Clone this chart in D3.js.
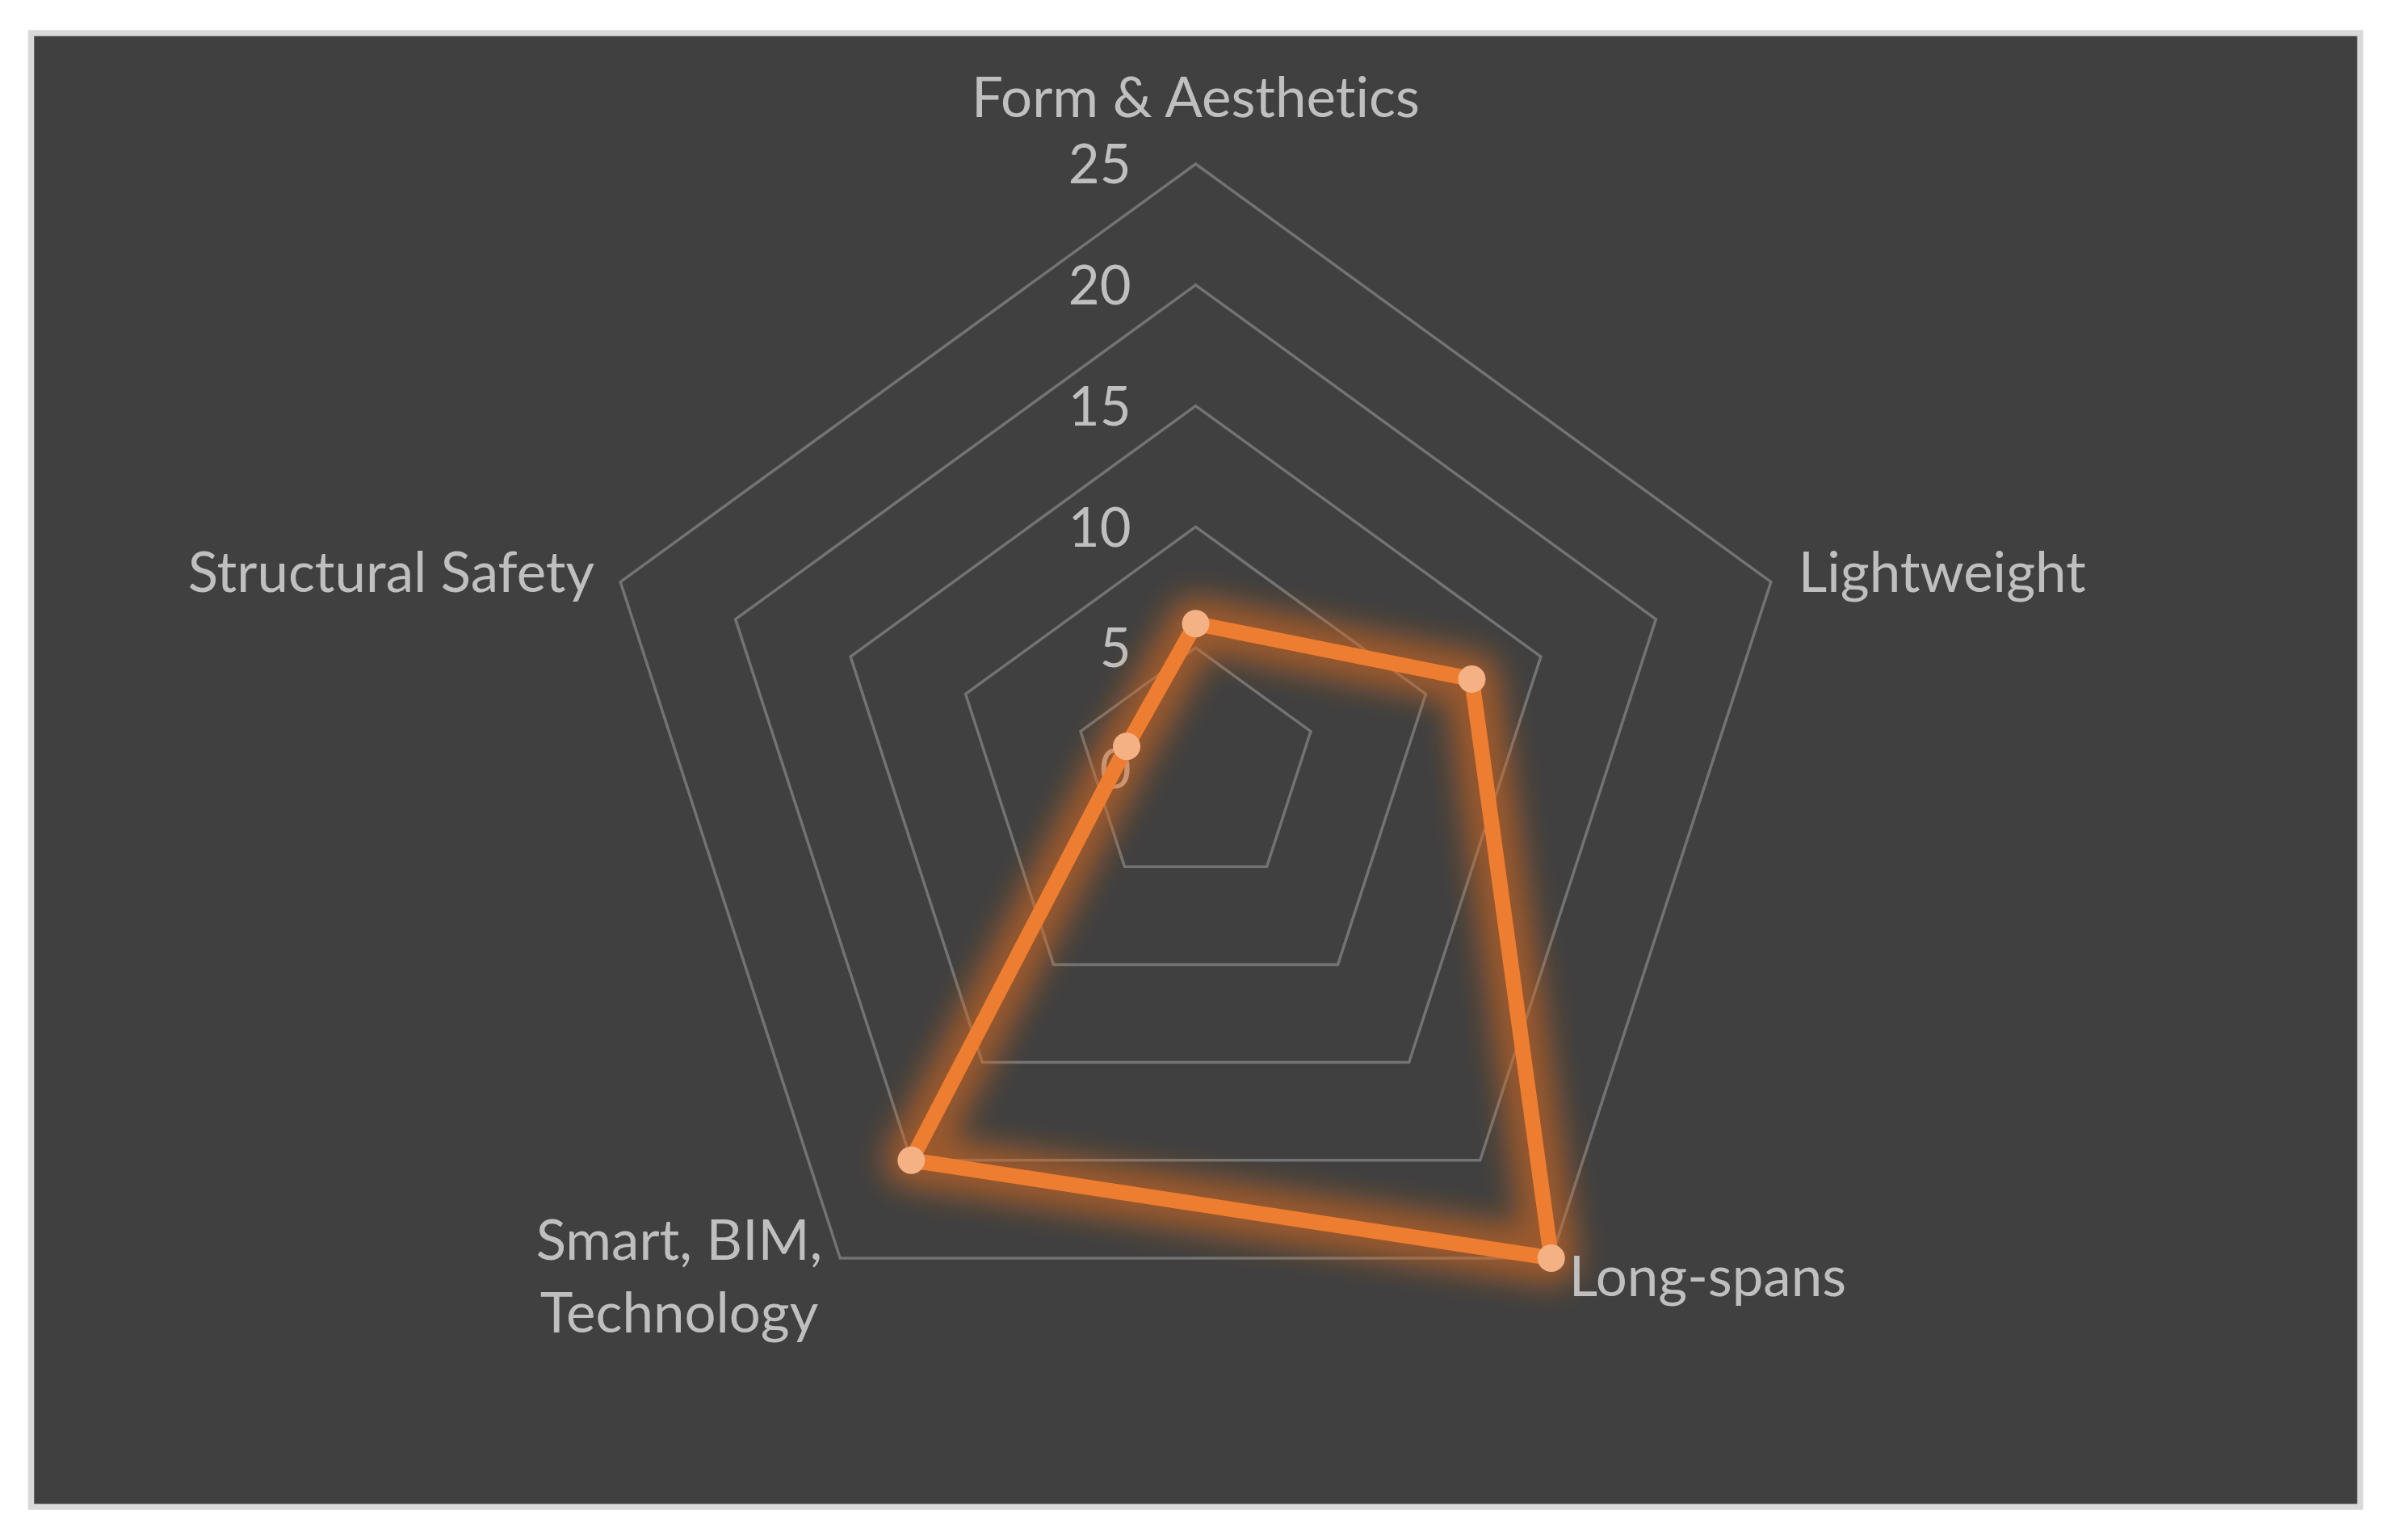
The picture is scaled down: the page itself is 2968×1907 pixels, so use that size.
<!DOCTYPE html>
<html>
<head>
<meta charset="utf-8">
<script src="https://cdn.jsdelivr.net/npm/d3@7"></script>
<style>
  html, body { margin: 0; padding: 0; background: #ffffff; }
  svg { display: block; }
  text { font-variant-ligatures: none; }
</style>
</head>
<body>
<svg id="radar" width="2968" height="1907"></svg>
<script>
// chart data
var categories = ["Form & Aesthetics", "Lightweight", "Long-spans", "Smart, BIM,\nTechnology", "Structural Safety"];
var scores = [6, 12, 25, 20, 3];
var ticks = [0, 5, 10, 15, 20, 25];

(function(d3) {
	var svg = d3.select("#radar"),
		cx = 1480.5,
		cy = 952,
		radius = 749,
		font = "Lato, 'Liberation Sans', sans-serif",
		textColor = "#bfbfbf";

	var r = d3.scaleLinear().domain([0, 25]).range([0, radius]);
	var angle = d3.scaleLinear().domain([0, categories.length]).range([0, 2 * Math.PI]);

	function pt(i, v) {
		var a = angle(i);
		return [cx + r(v) * Math.sin(a), cy - r(v) * Math.cos(a)];
	}

	// frame
	svg.append("rect")
		.attr("x", 38.5).attr("y", 41)
		.attr("width", 2884).attr("height", 1825)
		.attr("fill", "#404040")
		.attr("stroke", "#d9d9d9")
		.attr("stroke-width", 7.5);

	var defs = svg.append("defs");
	defs.append("filter")
		.attr("id", "glow")
		.attr("x", "-20%").attr("y", "-20%")
		.attr("width", "140%").attr("height", "140%")
		.append("feGaussianBlur")
		.attr("stdDeviation", 18);

	var g = svg.append("g");

	// grid pentagons
	var ring = d3.line().curve(d3.curveLinearClosed);
	g.selectAll(".ring")
		.data(ticks)
		.enter().append("path")
		.attr("class", "ring")
		.attr("d", function(t) { return ring(categories.map(function(c, i) { return pt(i, t); })); })
		.attr("fill", "none")
		.attr("stroke", "#737373")
		.attr("stroke-width", 3.5);

	// tick labels
	g.selectAll(".tick")
		.data(ticks)
		.enter().append("text")
		.attr("class", "tick")
		.attr("x", cx - 80)
		.attr("y", function(t) { return cy - r(t); })
		.attr("dy", "0.36em")
		.attr("text-anchor", "end")
		.style("font-family", font)
		.style("font-size", "67px")
		.style("fill", textColor)
		.text(function(t) { return t; });

	// series
	var pts = scores.map(function(v, i) { return pt(i, v); });

	// soft orange glow under the line
	g.append("path")
		.attr("d", ring(pts))
		.attr("fill", "none")
		.attr("stroke", "#d96a1c")
		.attr("stroke-opacity", 0.6)
		.attr("stroke-width", 68)
		.attr("stroke-linejoin", "round")
		.attr("filter", "url(#glow)");

	g.append("path")
		.attr("d", ring(pts))
		.attr("fill", "none")
		.attr("stroke", "#ed7d31")
		.attr("stroke-width", 19)
		.attr("stroke-linejoin", "round");

	g.selectAll(".dot")
		.data(pts)
		.enter().append("circle")
		.attr("class", "dot")
		.attr("cx", function(d) { return d[0]; })
		.attr("cy", function(d) { return d[1]; })
		.attr("r", 17)
		.attr("fill", "#f4b183");

	// category labels
	var labels = g.selectAll(".cat")
		.data(categories)
		.enter().append("text")
		.attr("class", "cat")
		.style("font-family", font)
		.style("font-size", "69px")
		.style("fill", textColor);

	labels.each(function(c, i) {
		var t = d3.select(this),
			v = pt(i, 25),
			s = Math.sin(angle(i)),
			co = Math.cos(angle(i)),
			lines = c.split("\n"),
			x, y, anchor;
		if (Math.abs(s) < 0.1) { anchor = "middle"; x = v[0]; y = v[1] - 58; }
		else if (co > 0) { anchor = s > 0 ? "start" : "end"; x = v[0] + (s > 0 ? 34 : -32); y = v[1] + 12.5; }
		else { anchor = s > 0 ? "start" : "middle"; x = v[0] + 22; y = v[1] + 47; }
		if (lines.length > 1) y = v[1] + 2;
		t.attr("text-anchor", anchor);
		lines.forEach(function(l, k) {
			t.append("tspan").attr("x", x).attr("y", y + k * 90).text(l);
		});
		if (lines.length > 1) {
			// centred block, right edge just left of the vertex
			var w = d3.max(t.selectAll("tspan").nodes(), function(n) { return n.getComputedTextLength(); });
			t.selectAll("tspan").attr("x", v[0] - 22 - w / 2);
		}
	});
})(window.d3);
</script>
</body>
</html>
